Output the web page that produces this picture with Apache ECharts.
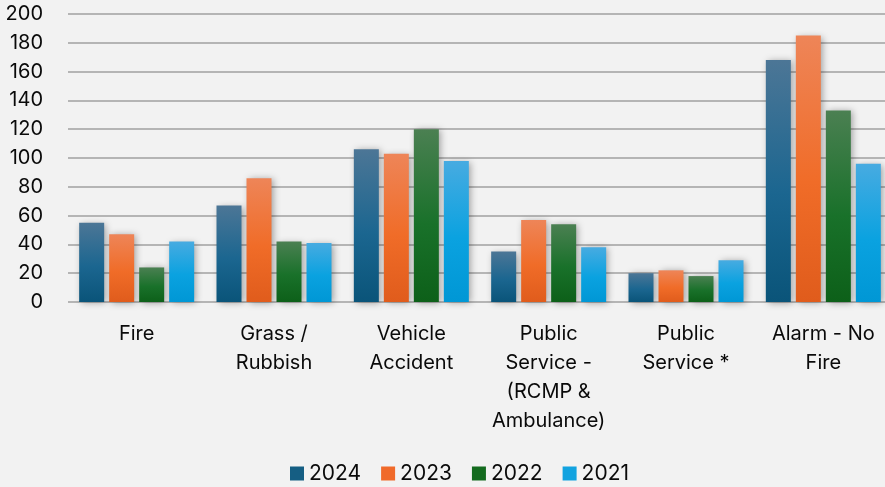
<!DOCTYPE html>
<html><head><meta charset="utf-8">
<script src="https://cdn.jsdelivr.net/npm/echarts@6/dist/echarts.min.js"></script>
<style>html,body{margin:0;padding:0;background:#F2F2F2;}#c{width:885px;height:487px;}</style>
</head><body><div id="c"></div>
<script>
const categories = ['Fire', 'Grass /\nRubbish', 'Vehicle\nAccident', 'Public\nService -\n(RCMP &\nAmbulance)', 'Public\nService *', 'Alarm - No\nFire'];
const seriesNames = ['2024', '2023', '2022', '2021'];
const v2024 = [55, 67, 106, 35, 20, 168];
const v2023 = [47, 86, 103, 57, 22, 185];
const v2022 = [24, 42, 120, 54, 18, 133];
const v2021 = [42, 41, 98, 38, 29, 96];
const yTicks = {min: 0, max: 200, interval: 20};

const palettes = [
  {legend: '#155E83', stops: ['#4C7696', '#1B6690', '#0A5479']},
  {legend: '#F06A2A', stops: ['#EE8558', '#F06C28', '#E05C1C']},
  {legend: '#146B1F', stops: ['#4B8052', '#19712A', '#0D6019']},
  {legend: '#12A3E0', stops: ['#47ABE1', '#0AA2E0', '#0097D5']}
];
const values = [v2024, v2023, v2022, v2021];
const FONT = 'Inter, sans-serif';

const chart = echarts.init(document.getElementById('c'), null, {renderer: 'canvas'});
chart.setOption({
  backgroundColor: '#F2F2F2',
  animation: false,
  grid: {left: 68, width: 824, top: 14, height: 288, containLabel: false, outerBoundsMode: 'none'},
  legend: {
    left: 290, top: 463, padding: 0,
    itemWidth: 14, itemHeight: 14, itemGap: 20,
    icon: 'rect',
    textStyle: {fontFamily: FONT, fontSize: 21, color: '#0A0A0A'},
    data: seriesNames.map((n, i) => ({name: n, itemStyle: {color: palettes[i].legend}}))
  },
  xAxis: {
    type: 'category', data: categories,
    axisLine: {show: false}, axisTick: {show: false},
    axisLabel: {interval: 0, margin: 17, fontFamily: FONT, fontSize: 20, lineHeight: 29, color: '#0A0A0A'}
  },
  yAxis: {
    type: 'value', min: yTicks.min, max: yTicks.max, interval: yTicks.interval,
    axisLine: {show: false}, axisTick: {show: false},
    axisLabel: {margin: 25, fontFamily: FONT, fontSize: 20, color: '#0A0A0A'},
    splitLine: {lineStyle: {color: '#A0A0A0', width: 1.5}}
  },
  series: seriesNames.map((n, i) => ({
    name: n, type: 'bar', data: values[i],
    barWidth: 25, barGap: '20%',
    itemStyle: {
      color: {type: 'linear', x: 0, y: 0, x2: 0, y2: 1,
        colorStops: [{offset: 0, color: palettes[i].stops[0]}, {offset: 0.55, color: palettes[i].stops[1]}, {offset: 1, color: palettes[i].stops[2]}]},
      shadowBlur: 7, shadowColor: 'rgba(0,0,0,0.35)', shadowOffsetX: 2, shadowOffsetY: 1
    }
  }))
});
</script></body></html>
